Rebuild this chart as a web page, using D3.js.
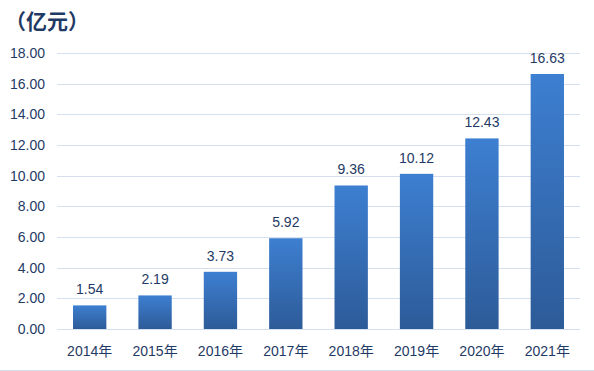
<!DOCTYPE html>
<html>
<head>
<meta charset="utf-8">
<script src="https://cdn.jsdelivr.net/npm/d3@7"></script>
<style>
  body { margin: 0; background: #fff; }
  svg text { font-family: "Liberation Sans", "Noto Sans CJK SC", sans-serif; fill: #1f3a64; }
</style>
</head>
<body>
<svg id="viz"></svg>
<script>
const years = ["2014年", "2015年", "2016年", "2017年", "2018年", "2019年", "2020年", "2021年"];
const values = [1.54, 2.19, 3.73, 5.92, 9.36, 10.12, 12.43, 16.63];
const yTicks = [0, 2, 4, 6, 8, 10, 12, 14, 16, 18];
const unitLabel = "（亿元）";

const width = 594, height = 371;
const svg = d3.select("#viz").attr("width", width).attr("height", height);

const x = d3.scaleBand().domain(years).range([57, 580]).paddingInner(0.49).paddingOuter(0.245);
const y = d3.scaleLinear().domain([0, 18]).range([329, 53]);

const defs = svg.append("defs");
const grad = defs.append("linearGradient").attr("id", "barGrad").attr("x1", 0).attr("y1", 0).attr("x2", 0).attr("y2", 1);
grad.append("stop").attr("offset", "0%").attr("stop-color", "#3d7fd1");
grad.append("stop").attr("offset", "100%").attr("stop-color", "#2d5b98");

// gridlines
svg.append("g").selectAll("line").data(yTicks).enter().append("line")
  .attr("x1", 57).attr("x2", 580)
  .attr("y1", d => Math.round(y(d)) + 0.5).attr("y2", d => Math.round(y(d)) + 0.5)
  .attr("stroke", "#d5e0ee").attr("stroke-width", 1);

// y axis labels
const yAxis = svg.append("g").attr("transform", "translate(45,0)")
  .call(d3.axisLeft(y).tickValues(yTicks).tickFormat(d3.format(".2f")).tickSize(0).tickPadding(0));
yAxis.select(".domain").remove();
yAxis.selectAll("text").style("font-size", "14px").style("fill", "#1f3a64");

// bars
svg.append("g").selectAll("rect").data(values).enter().append("rect")
  .attr("x", (d, i) => x(years[i]))
  .attr("y", d => y(d))
  .attr("width", x.bandwidth())
  .attr("height", d => y(0) - y(d))
  .attr("fill", "url(#barGrad)");

// value labels
svg.append("g").selectAll("text").data(values).enter().append("text")
  .attr("x", (d, i) => x(years[i]) + x.bandwidth() / 2)
  .attr("y", d => y(d) - 11)
  .attr("text-anchor", "middle")
  .style("font-size", "14px")
  .text(d => d.toFixed(2));

// x labels
svg.append("g").selectAll("text").data(years).enter().append("text")
  .attr("x", d => x(d) + x.bandwidth() / 2)
  .attr("y", 356)
  .attr("text-anchor", "middle")
  .style("font-size", "14px")
  .text(d => d);

// unit label
svg.append("text").attr("x", 5).attr("y", 29)
  .style("font-size", "21px").style("font-weight", "bold").style("fill", "#1f3a64")
  .text(unitLabel);

// bottom border
svg.append("line").attr("x1", 0).attr("x2", width).attr("y1", 370.5).attr("y2", 370.5)
  .attr("stroke", "#d5e0ee");
</script>
</body>
</html>
